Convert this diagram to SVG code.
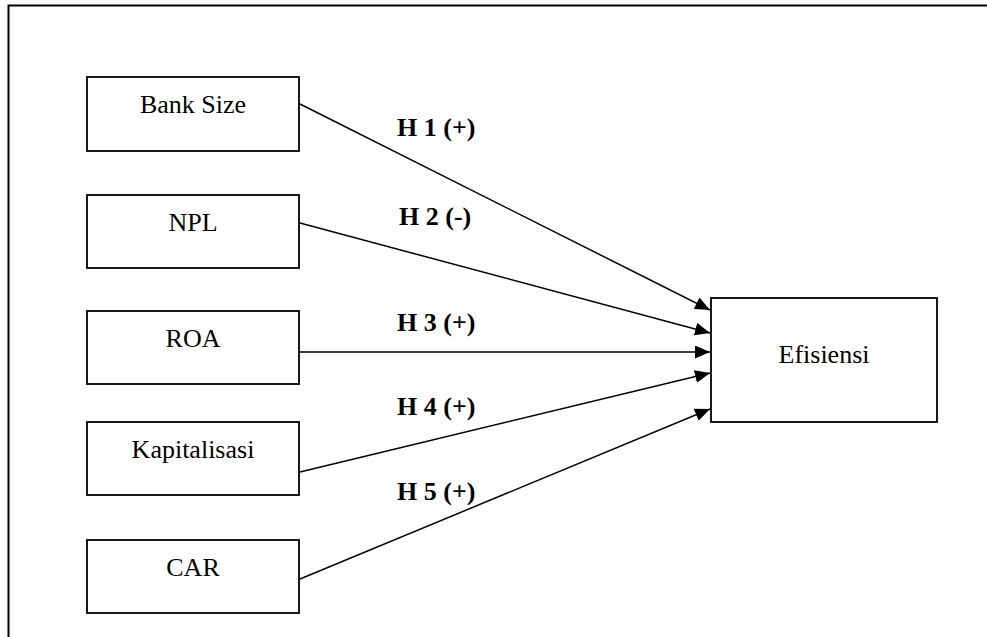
<svg xmlns="http://www.w3.org/2000/svg" width="987" height="637" viewBox="0 0 987 637">
  <style>
    .box { fill: #ffffff; stroke: #000000; stroke-width: 1.8; }
    .label { font-family: "Liberation Serif", "Times New Roman", serif; font-size: 26px; fill: #000000; text-anchor: middle; }
    .hyp { font-family: "Liberation Serif", "Times New Roman", serif; font-size: 26px; font-weight: bold; fill: #000000; }
    .link { stroke: #000000; stroke-width: 1.5; fill: none; marker-end: url(#arrow); }
  </style>
  <defs>
    <marker id="arrow" viewBox="0 0 15 13" refX="15" refY="6.5" markerWidth="15" markerHeight="13" markerUnits="userSpaceOnUse" orient="auto">
      <path d="M0,0 L15,6.5 L0,13 Z" fill="#000000"/>
    </marker>
  </defs>

  <rect x="0" y="0" width="987" height="637" fill="#ffffff"/>
  <!-- outer frame (open at right and bottom) -->
  <path d="M8.5,637 L8.5,5.5 L987,5.5" fill="none" stroke="#000000" stroke-width="2"/>

  <g id="connectors">
    <line class="link" x1="300" y1="104" x2="710" y2="310"/>
    <line class="link" x1="300" y1="223" x2="710" y2="333"/>
    <line class="link" x1="300" y1="352" x2="710" y2="352"/>
    <line class="link" x1="300" y1="472" x2="710" y2="373"/>
    <line class="link" x1="300" y1="579" x2="710" y2="409"/>
    <text class="hyp" x="397" y="136">H 1 (+)</text>
    <text class="hyp" x="399" y="225">H 2 (-)</text>
    <text class="hyp" x="397" y="331">H 3 (+)</text>
    <text class="hyp" x="397" y="415">H 4 (+)</text>
    <text class="hyp" x="397" y="500">H 5 (+)</text>
  </g>

  <g id="bank-size">
    <rect class="box" x="87" y="77" width="212" height="74"/>
    <text class="label" x="193" y="113">Bank Size</text>
  </g>
  <g id="npl">
    <rect class="box" x="87" y="195" width="212" height="73"/>
    <text class="label" x="193" y="231">NPL</text>
  </g>
  <g id="roa">
    <rect class="box" x="87" y="311" width="212" height="73"/>
    <text class="label" x="193" y="347">ROA</text>
  </g>
  <g id="kapitalisasi">
    <rect class="box" x="87" y="422" width="212" height="73"/>
    <text class="label" x="193" y="458">Kapitalisasi</text>
  </g>
  <g id="car">
    <rect class="box" x="87" y="540" width="212" height="73"/>
    <text class="label" x="193" y="576">CAR</text>
  </g>
  <g id="efisiensi">
    <rect class="box" x="711" y="298" width="226" height="124"/>
    <text class="label" x="824" y="363">Efisiensi</text>
  </g>
</svg>
